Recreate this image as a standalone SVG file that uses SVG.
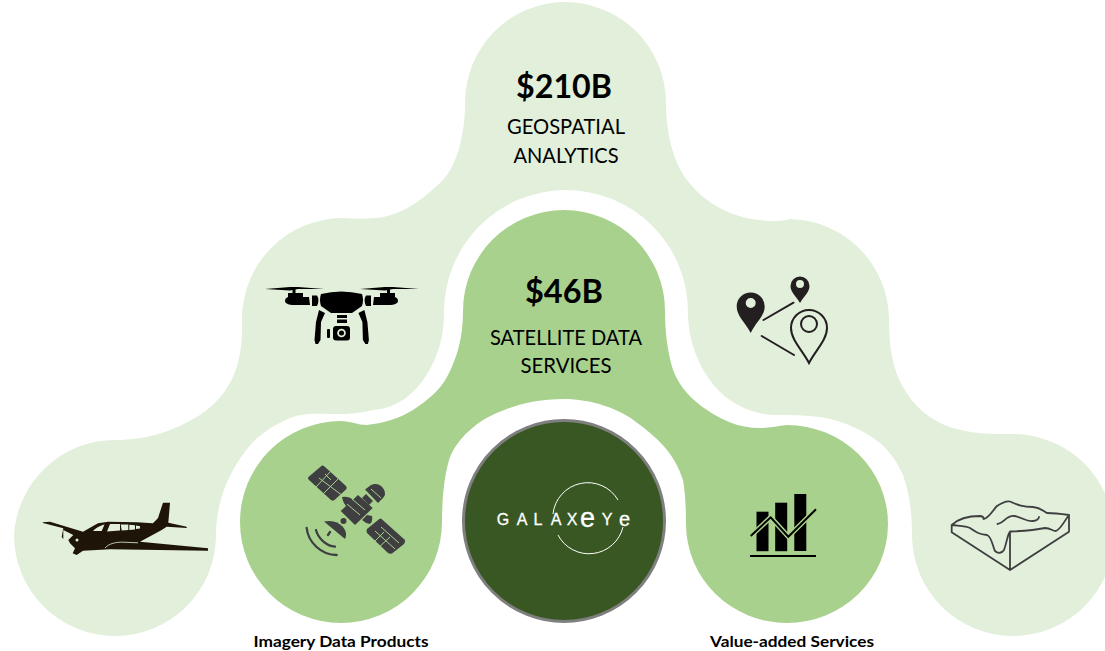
<svg xmlns="http://www.w3.org/2000/svg" width="1105" height="651" viewBox="0 0 1105 651">
<style>
text{font-family:"Lato","Carlito","Liberation Sans",sans-serif;text-anchor:middle;fill:#000}
.big{font-size:33px;font-weight:700}
.lab{font-size:21px}
.cap{font-size:16px;font-weight:700}
.logo{font-family:"Liberation Sans",sans-serif;font-size:16px;fill:#fff;stroke:#fff;stroke-width:.3px;text-anchor:middle}
.dk{fill:#3f3f41}
.ln{fill:none;stroke:#3f3f41;stroke-linecap:round;stroke-linejoin:round}
</style>
<rect width="1105" height="651" fill="#fff"/>
<g id="outer-blob">
<path fill="#e2efda" d="M565 2A101 101 0 0 1 666 103C666 130 672 160 687 180C702 200 730 221 775 221C782 221 786 220 790 219A101 101 0 0 1 889 319C889 345 892 368 903 387C915 408 930 420 950 427C970 434 990 434 1013 434A101 101 0 0 1 1013 636A101 101 0 0 1 912 535C912 515 910 495 903 475C896 460 890 452 880 443C865 431 847 423 830 419C815 415 790 415 773 415C755 414 742 408 730 400C715 390 703 372 697 357C690 340 688 325 688 312A122 122 0 0 0 444 312C444 330 441 347 433 363C426 378 417 389 407 397C397 405 385 409 373 410C360 413 350 414 343 414C325 414 312 413 300 415C285 418 270 428 257 438C235 460 216 495 216 535A101 101 0 0 1 14 535A101 101 0 0 1 115 440C150 440 175 430 200 415C215 405 226 392 233 377C240 362 243 340 242 318A101 101 0 0 1 343 218C358 219 370 219 383 217C405 213 425 198 443 180C457 165 465 135 465 103A100 101 0 0 1 565 2Z"/>
</g>
<g id="inner-blob">
<path fill="#a9d18e" d="M564 210A101 101 0 0 1 665 311C665 330 667 350 673 370C680 388 692 400 707 410C722 420 738 428 760 428C770 428 778 426 787 425A101 99 0 0 1 888 524A101 99 0 0 1 787 623A101 99 0 0 1 686 524C686 505 685 492 683 480C675 455 660 440 640 425C620 408 590 399 564 399C530 399 505 408 483 420C465 432 455 445 450 457C444 475 442 500 442 522A101 101 0 0 1 341 623A101 101 0 0 1 240 522A101 101 0 0 1 341 421C350 421 358 425 367 425C385 423 400 418 413 410C428 400 440 390 447 377C456 360 463 340 463 311A101 101 0 0 1 564 210Z"/>
</g>
<g id="galaxeye-hub">
<circle cx="564" cy="521" r="100.500" fill="#385723" stroke="#7f7f7f" stroke-width="3"/>
<text class="logo" x="503" y="525">G</text>
<text class="logo" x="522" y="525">A</text>
<text class="logo" x="538" y="525">L</text>
<text class="logo" x="556" y="525">A</text>
<text class="logo" x="572" y="525">X</text>
<text class="logo" x="587.500" y="527" style="font-size:27px">e</text>
<text class="logo" x="607" y="525">Y</text>
<text class="logo" x="624.500" y="525.500" style="font-size:20px">e</text>
<path d="M553 514A35 35 0 0 1 618 500" fill="none" stroke="#fff" stroke-width="1"/>
<path d="M623 527A35 35 0 0 1 558 535" fill="none" stroke="#fff" stroke-width="1"/>
</g>
<g id="geospatial">
<text class="big" x="564" y="98" textLength="96" lengthAdjust="spacingAndGlyphs">$210B</text>
<text class="lab" x="566" y="134" textLength="118" lengthAdjust="spacingAndGlyphs">GEOSPATIAL</text>
<text class="lab" x="566" y="163" textLength="105" lengthAdjust="spacingAndGlyphs">ANALYTICS</text>
</g>
<g id="satellite-data">
<text class="big" x="564" y="303" textLength="78" lengthAdjust="spacingAndGlyphs">$46B</text>
<text class="lab" x="566" y="345" textLength="152" lengthAdjust="spacingAndGlyphs">SATELLITE DATA</text>
<text class="lab" x="566" y="373" textLength="91" lengthAdjust="spacingAndGlyphs">SERVICES</text>
</g>
<g id="imagery-label"><text class="cap" x="341" y="647" textLength="175" lengthAdjust="spacingAndGlyphs">Imagery Data Products</text></g>
<g id="value-label"><text class="cap" x="792" y="647" textLength="164" lengthAdjust="spacingAndGlyphs">Value-added Services</text></g>
<g id="plane">
<path fill="#1e1408" d="M42.700 522.300L50 521.700L83 531.700L98 523.300L108 521.700L136.700 522.300L153 523.300L158 518L163 502.700L170 502.700L168.300 522.700L186.700 526.700V528L166.700 526.700L161.700 530L140 541.700L208 548.300V550.700L110 549.300L83 550.700L76.700 555L72.700 553.300L75 548.300L70 543.300L68.300 540L73.300 535L63.300 530V539.300L61.700 536.700L63.300 528.300L43 523Z"/>
<path fill="#e2efda" d="M93 531C97 527 102 525 104.500 524.500L101.700 531ZM107 531.500L110 524H120V530.500ZM121.700 530.500L120.700 524.500H128.300V530ZM129.300 530V524.800L135 525.300V529.500ZM136 529V525.500L140 526.300V528.500Z"/>
<path fill="none" stroke="#e2efda" stroke-width=".8" d="M105 548C109 543.500 116 542 123 542.200L138 542.800"/>
<circle cx="77" cy="540" r="1.500" fill="#e2efda"/>
</g>
<g id="drone">
<path d="M265 289L290 287H298L324 289H298L290 290.500ZM360 289L385 287H393L419 289H393L385 290.500Z"/>
<rect x="292.500" y="287" width="3" height="8"/><rect x="387" y="287" width="3" height="8"/>
<path d="M288 293H303V297H309L310 305H292Q285 304 285 301Q285 298 288 297ZM395 293H380V297H374L373 305H391Q398 304 398 301Q398 298 395 297Z"/>
<path d="M312 295.500H317Q320 300 317 306H312ZM371 295.500H366Q363 300 366 306H371Z"/>
<path d="M321 294Q341 289 362 294Q364 300 362 306L352 313H331L321 306Q319 300 321 294Z"/>
<path d="M319 310L325 313L321 322L320.500 340L318 344H315.500L314.500 340L316 322ZM364.400 310L358.400 313L362.400 322L362.900 340L365.400 344H367.900L368.900 340L367.400 322Z"/>
<path d="M337 315H347V318H337ZM337 319.500H347V323H337Z"/>
<rect x="333" y="326" width="17" height="14.500" rx="3"/>
<rect x="327" y="329" width="3" height="9" rx="1"/>
<circle cx="341.500" cy="333" r="4.300" fill="#e2efda"/><circle cx="341.500" cy="333" r="2.500"/>
</g>
<g id="map-pins">
<path fill="#231f20" fill-rule="evenodd" d="M750.700 333C745 322 736.700 316 736.700 306.500A14 14 0 0 1 764.700 306.500C764.700 316 756 322 750.700 333ZM750.700 298A5 5 0 1 0 750.700 308A5 5 0 1 0 750.700 298Z"/>
<path fill="#231f20" fill-rule="evenodd" d="M800 303C796 296 790.500 292 790.500 286A9.500 9.500 0 0 1 809.500 286C809.500 292 804 296 800 303ZM800 280A4 4 0 1 0 800 288A4 4 0 1 0 800 280Z"/>
<path fill="none" stroke="#231f20" stroke-width="2" d="M809 363C803 351 791 340 791 328A18 18 0 0 1 827 328C827 340 815 351 809 363Z"/>
<circle cx="809" cy="324" r="8" fill="none" stroke="#231f20" stroke-width="2"/>
<path fill="none" stroke="#231f20" stroke-width="2" stroke-linecap="round" d="M763.500 320L793.500 302.700M761.700 336L794 355"/>
</g>
<g id="terrain">
<path fill="none" stroke="#3f3f41" stroke-width="1.800" stroke-linejoin="round" stroke-linecap="round" d="M951.700 525C960 517 972 516 980 516C986 517 982 519 984 519C990 517 993 510 997 506C1003 502 1008 501 1010 501.500C1018 505 1022 507 1033 507C1042 508 1044 512 1047 513C1055 513 1062 514 1069 515V531.700L1010 570L951.700 532.300ZM951.700 525C960 526 966 526 970 528C976 532 978 534 987 535C992 537 992 545 995 551C998 554 1002 553 1004 550C1007 542 1008 531 1011 531.500C1022 531 1035 530 1045 528C1051 528 1052 531 1056 531C1061 529 1065 520 1069 515M951.700 525V532.300M1010 531.500V570M997.500 524C1004 523 1007 515 1014 516C1022 517 1026 522 1033 521C1036 521 1039 519 1039 517"/>
</g>
<g id="satellite">
<g class="dk">
<path d="M321.700 465.700Q323 465 325 467L346 486Q347.500 488 346 489.500L334.500 500Q333 501 331 500L309 480Q307 478 309 476.500Z"/>
<path d="M379.300 519L381 518.500L405 540Q405.500 542 404 544L392 553.500Q390 554 388 553L367 533Q366 531 367 529Z"/>
<path d="M358 495L372.700 508L355 525L340.700 511Z"/>
<path d="M365 489.500L371 485Q378 482 383 488Q387 494 383 498L378 503Z"/>
<path d="M362 498L366 494L373 501L369 505Z"/>
<path d="M342 497Q349 496 353 500L347 507Q343 503 342 497ZM372 516Q373 522 370 524Q365 523 362 520L367 515Z"/>
<circle cx="343.500" cy="521" r="3"/>
<path d="M324 521.500Q336 519 343 527Q348 533 345 539Z"/>
</g>
<path class="ln" stroke-width="2.300" d="M330 532L328 535M306.700 528C308 542 321 555 336.700 555M316 530C318 538 326 546 335 546.700"/>
<path fill="none" stroke="#a9d18e" stroke-width="1" d="M331 471L316 487M339 478L323 494M319 478L343 496M325 474L331 480M375 531L395 549M381 527L399 543M384 532L372 544M390 537L377 549M347 504L360 515M352 499L365 510M371 489L381 498"/>
</g>
<g id="chart">
<rect x="756.500" y="511.700" width="12" height="39.500"/>
<rect x="775.200" y="502.700" width="12" height="48.500"/>
<rect x="794.300" y="494" width="12" height="57"/>
<path fill="none" stroke="#a9d18e" stroke-width="5" d="M750.700 536L770.700 517.300L788.300 536.700L816 509.300"/>
<path fill="none" stroke="#000" stroke-width="2" d="M750.700 536L770.700 517.300L788.300 536.700L816 509.300"/>
<path fill="none" stroke="#000" stroke-width="2" d="M750 556H816"/>
</g>
</svg>
